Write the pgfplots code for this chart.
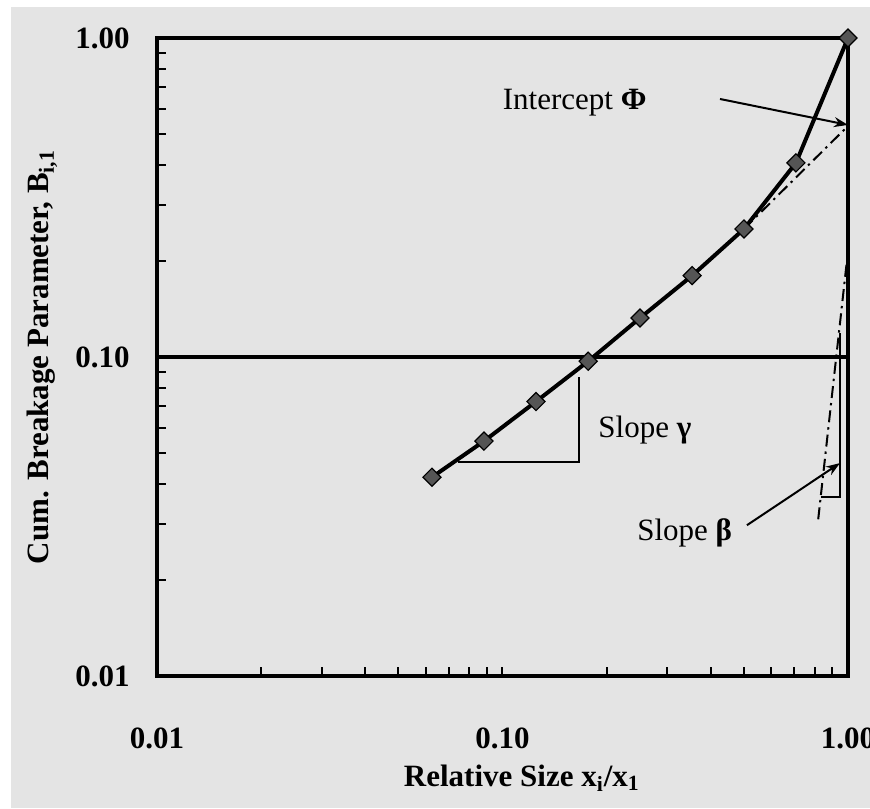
\documentclass[border=0pt]{standalone}
\usepackage{pgfplots}
\pgfplotsset{compat=1.18}
\usepackage{fontspec}
\setmainfont{Liberation Serif}
\usetikzlibrary{arrows.meta}
\definecolor{bg}{HTML}{E4E4E4}
\definecolor{mk}{HTML}{555555}
\begin{document}
\fontsize{15.5}{18}\selectfont
\begin{tikzpicture}
\path[use as bounding box] (0,0) rectangle (435pt,404pt);
\fill[bg] (5.5pt,0) rectangle (435pt,400.5pt);
\begin{axis}[
  at={(78.5pt,66pt)}, anchor=south west,
  scale only axis, width=345.5pt, height=319pt,
  xmode=log, ymode=log,
  xmin=0.01, xmax=1, ymin=0.01, ymax=1,
  clip=false,
  axis line style={line width=2pt, black},
  tick pos=left, tick align=inside,
  major tick length=4.5pt, minor tick length=4.5pt,
  every tick/.style={black, line width=1pt},
  xtick={0.01,0.1,1}, ytick={0.01,0.1,1},
  xticklabels={\textbf{0.01},\textbf{0.10},\textbf{1.00}},
  yticklabels={\textbf{0.01},\textbf{0.10},\textbf{1.00}},
  xticklabel style={anchor=center, yshift=-31pt, inner sep=0pt},
  yticklabel style={anchor=east, xshift=-13.5pt, inner sep=0pt},
  ymajorgrids=true,
  major grid style={black, line width=1.8pt},
  xlabel={\textbf{Relative Size x\textsubscript{i}/x\textsubscript{1}}},
  ylabel={\textbf{Cum. Breakage Parameter, B\textsubscript{i,1}}},
  xlabel style={at={(axis description cs:0.528,-0.16)}, anchor=center},
  ylabel style={at={(axis description cs:-0.166,0.5)}, anchor=center},
]
% dash-dot extrapolation for intercept
\addplot[black, line width=1pt, dash pattern=on 6pt off 2.5pt on 1.2pt off 2.5pt] coordinates {(0.5,0.252) (1.0,0.53)};
% dash-dot steep line for beta
\addplot[black, line width=1pt, dash pattern=on 6pt off 2.5pt on 1.2pt off 2.5pt] coordinates {(0.82,0.031) (1.0,0.215)};
% slope gamma triangle
\addplot[black, line width=1pt] coordinates {(0.0745,0.0469) (0.1665,0.0469) (0.1665,0.0866)};
% slope beta triangle
\addplot[black, line width=1pt] coordinates {(0.835,0.0364) (0.948,0.0364) (0.948,0.119)};
% arrows
\addplot[black, line width=1pt, -{Stealth[length=7pt,width=5pt]}] coordinates {(0.426,0.644) (1.0,0.534)};
\addplot[black, line width=1pt, -{Stealth[length=7pt,width=5pt]}] coordinates {(0.51,0.0297) (0.948,0.0465)};
% data
\addplot[black, line width=2pt, mark=square*, mark size=3.2pt,
  mark options={rotate=45, fill=mk, draw=black, line width=0.6pt}]
  coordinates {
  (0.0625,0.042) (0.0884,0.0545) (0.125,0.0725) (0.177,0.097)
  (0.25,0.1325) (0.354,0.18) (0.5,0.252) (0.707,0.406) (1.0,1.0)};
\node[anchor=west, inner sep=0pt] at (axis cs:0.1,0.625) {Intercept \textbf{Φ}};
\node[anchor=west, inner sep=0pt] at (axis cs:0.189,0.059) {Slope \textbf{γ}};
\node[anchor=west, inner sep=0pt] at (axis cs:0.245,0.0281) {Slope \textbf{β}};
\end{axis}
\end{tikzpicture}
\end{document}
